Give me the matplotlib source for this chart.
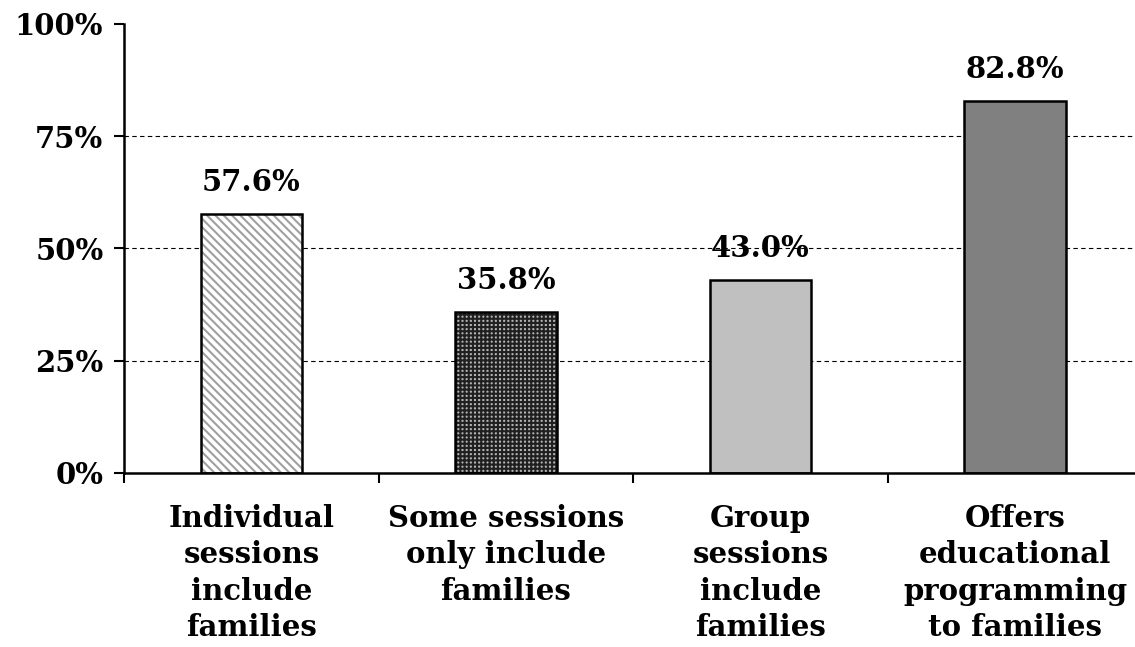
import matplotlib.pyplot as plt
import numpy as np
from matplotlib.ticker import FixedLocator

categories = [
    "Individual\nsessions\ninclude\nfamilies",
    "Some sessions\nonly include\nfamilies",
    "Group\nsessions\ninclude\nfamilies",
    "Offers\neducational\nprogramming\nto families",
]
values = [57.6, 35.8, 43.0, 82.8]
value_labels = ["57.6%", "35.8%", "43.0%", "82.8%"]
y_ticks = [0, 25, 50, 75, 100]

plt.rcParams['font.family'] = ['DejaVu Serif']
plt.rcParams['font.weight'] = 'bold'
plt.rcParams['hatch.linewidth'] = 1.5

fs = 21

fig = plt.figure(figsize=(11.35, 6.47), dpi=100)
# axes spans 125px..1143px horizontally, 24px..473px vertically
ax = fig.add_axes([124.25 / 1135, (647 - 473) / 647, 1018 / 1135, 449 / 647])

x = np.arange(len(values))
width = 0.4

# fills with patterns
ax.bar(x[0], values[0], width, color='white', edgecolor='#a0a0a0', hatch='\\\\\\\\', linewidth=0, zorder=2)
ax.bar(x[1], values[1], width, color='#b4b4b4', edgecolor='#202020', hatch='++++', linewidth=0, zorder=2)
ax.bar(x[2], values[2], width, color='#c0c0c0', linewidth=0, zorder=2)
ax.bar(x[3], values[3], width, color='#808080', linewidth=0, zorder=2)
# outlines
ax.bar(x, values, width, fill=False, edgecolor='black', linewidth=1.8, zorder=3)

for xi, v, lab in zip(x, values, value_labels):
    ax.text(xi, v + 3.8, lab, ha='center', va='bottom', fontsize=fs, fontweight='bold')

ax.set_xlim(-0.5, 3.5)
ax.set_ylim(0, 100)
ax.set_yticks(y_ticks)
ax.set_yticklabels([f"{t}%" for t in y_ticks], fontsize=fs, fontweight='bold')
for t in y_ticks[1:-1]:
    ax.axhline(t, color='black', linestyle=(0, (4, 3)), linewidth=0.8, zorder=1)

ax.xaxis.set_major_locator(FixedLocator([-0.5, 0.5, 1.5, 2.5]))
ax.xaxis.set_minor_locator(FixedLocator(x))
ax.set_xticklabels([])
ax.set_xticklabels(categories, minor=True, fontsize=fs, fontweight='bold', linespacing=1.33)
ax.tick_params(axis='x', which='minor', length=0, pad=22)
ax.tick_params(axis='x', which='major', length=7, width=1.5, direction='out')
ax.tick_params(axis='y', length=7, width=1.5, direction='out', pad=8)

ax.spines['top'].set_visible(False)
ax.spines['right'].set_visible(False)
ax.spines['left'].set_linewidth(1.8)
ax.spines['bottom'].set_linewidth(1.8)

plt.savefig('out.png', dpi=100)
plt.close()
